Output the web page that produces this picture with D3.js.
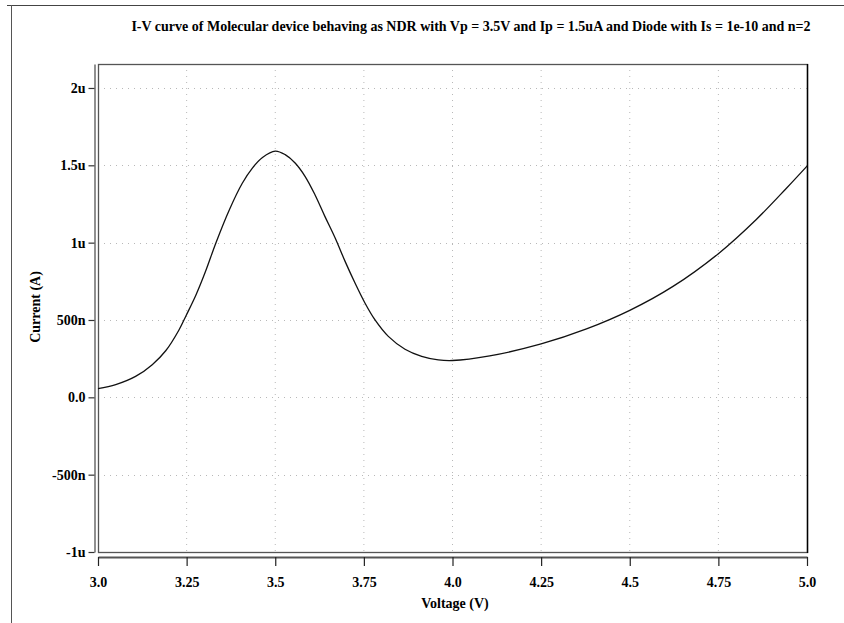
<!DOCTYPE html>
<html>
<head>
<meta charset="utf-8">
<script src="https://cdn.jsdelivr.net/npm/d3@7"></script>
<style>
  html, body { margin: 0; padding: 0; background: #fff; }
  svg { display: block; }
  text { font-family: "Liberation Serif", "Times New Roman", serif; font-weight: bold; fill: #000; }
</style>
</head>
<body>
<svg id="chart" width="844" height="623"></svg>
<script>
// I-V points of the NDR molecular device in series with the diode (current in microamps)
const voltage = [3.0, 3.05, 3.106, 3.153, 3.191, 3.228, 3.249, 3.276, 3.304, 3.332,
                 3.37, 3.407, 3.436, 3.464, 3.5, 3.528, 3.556, 3.584, 3.612,
                 3.64, 3.669, 3.697, 3.725, 3.753, 3.781, 3.819, 3.866, 3.913, 3.96,
                 4.0, 4.105, 4.25, 4.378, 4.5, 4.622, 4.75, 4.857, 4.942, 5.0];
const currentMicroA = [0.056, 0.082, 0.135, 0.211, 0.301, 0.434, 0.531, 0.66, 0.818, 0.995,
                       1.21, 1.384, 1.484, 1.551, 1.592, 1.569, 1.515, 1.429, 1.31,
                       1.17, 1.03, 0.879, 0.739, 0.61, 0.502, 0.394, 0.311, 0.265, 0.242,
                       0.238, 0.268, 0.345, 0.442, 0.562, 0.717, 0.929, 1.15, 1.352, 1.495];

const xTicks = [3.0, 3.25, 3.5, 3.75, 4.0, 4.25, 4.5, 4.75, 5.0];
const xTickLabels = ["3.0", "3.25", "3.5", "3.75", "4.0", "4.25", "4.5", "4.75", "5.0"];
const yTicks = [-1, -0.5, 0, 0.5, 1, 1.5, 2];
const yTickLabels = ["-1u", "-500n", "0.0", "500n", "1u", "1.5u", "2u"];

const titleText = "I-V curve of Molecular device behaving as NDR with Vp = 3.5V and Ip = 1.5uA and Diode with Is = 1e-10 and n=2";

const svg = d3.select("#chart");
const W = 844, H = 623;
const plot = { left: 98, right: 807, top: 64, bottom: 552 };

const x = d3.scaleLinear().domain([3, 5]).range([plot.left, plot.right]);
const y = d3.scaleLinear().domain([-1, 2.155]).range([plot.bottom, plot.top]);

// window border
svg.append("line").attr("x1", 7).attr("x2", W).attr("y1", 5.5).attr("y2", 5.5)
  .attr("stroke", "#444").attr("stroke-width", 1.2);
svg.append("line").attr("x1", 11.5).attr("x2", 11.5).attr("y1", 5).attr("y2", H)
  .attr("stroke", "#555").attr("stroke-width", 1);

// title
svg.append("text").attr("x", 471).attr("y", 31).attr("text-anchor", "middle")
  .attr("font-size", 14).text(titleText);

// dotted grid
const grid = svg.append("g");
grid.selectAll("line.gx").data(xTicks.slice(1, -1)).join("line")
  .attr("x1", d => x(d)).attr("x2", d => x(d))
  .attr("y1", plot.top).attr("y2", plot.bottom)
  .attr("stroke", "#b8b8b8").attr("stroke-width", 1).attr("stroke-dasharray", "1,5");
grid.selectAll("line.gy").data(yTicks.slice(1)).join("line")
  .attr("x1", plot.left).attr("x2", plot.right)
  .attr("y1", d => Math.round(y(d)) + 0.5).attr("y2", d => Math.round(y(d)) + 0.5)
  .attr("stroke", "#b8b8b8").attr("stroke-width", 1).attr("stroke-dasharray", "1,5");

// plot frame
svg.append("rect").attr("x", plot.left + 0.5).attr("y", plot.top + 0.5)
  .attr("width", plot.right - plot.left).attr("height", plot.bottom - plot.top)
  .attr("fill", "none").attr("stroke", "#555").attr("stroke-width", 1.3);
svg.append("line").attr("x1", plot.right + 0.5).attr("x2", plot.right + 0.5)
  .attr("y1", plot.top).attr("y2", plot.bottom + 1)
  .attr("stroke", "#000").attr("stroke-width", 1.4);

// x axis, offset below the frame
const xAxis = d3.axisBottom(x).tickValues(xTicks)
  .tickFormat((d, i) => xTickLabels[i]).tickSize(9).tickPadding(11).tickSizeOuter(0);
const gx = svg.append("g").attr("transform", `translate(0,${plot.bottom + 5})`).call(xAxis);
gx.select(".domain").attr("stroke", "#555").attr("stroke-width", 2);
gx.selectAll(".tick line").attr("stroke", "#222").attr("stroke-width", 1.2);
gx.selectAll(".tick text").attr("font-size", 14).attr("font-family", "Liberation Serif").attr("font-weight", "bold");

// y axis, offset left of the frame
const yAxis = d3.axisLeft(y).tickValues(yTicks)
  .tickFormat((d, i) => yTickLabels[i]).tickSize(6).tickPadding(3).tickSizeOuter(0);
const gy = svg.append("g").attr("transform", `translate(${plot.left - 3.5},0)`).call(yAxis);
gy.select(".domain").attr("stroke", "#555").attr("stroke-width", 1.3);
gy.selectAll(".tick line").attr("stroke", "#333").attr("stroke-width", 1.2);
gy.selectAll(".tick text").attr("font-size", 14).attr("font-family", "Liberation Serif").attr("font-weight", "bold");

// axis titles
svg.append("text").attr("x", 455).attr("y", 608).attr("text-anchor", "middle")
  .attr("font-size", 14).text("Voltage (V)");
svg.append("text").attr("transform", "translate(40,307) rotate(-90)")
  .attr("text-anchor", "middle").attr("font-size", 14).text("Current (A)");

// I-V curve
const pts = voltage.map((v, i) => [v, currentMicroA[i]]);
const line = d3.line().x(d => x(d[0])).y(d => y(d[1])).curve(d3.curveCatmullRom.alpha(0.5));
svg.append("path").datum(pts).attr("d", line)
  .attr("fill", "none").attr("stroke", "#111").attr("stroke-width", 1.3);
</script>
</body>
</html>
